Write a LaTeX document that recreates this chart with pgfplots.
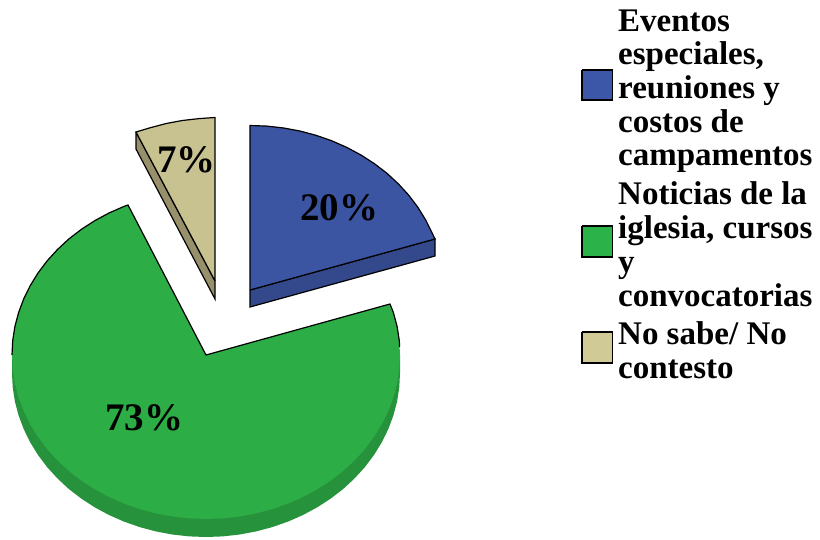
\documentclass[border=0pt]{standalone}
\usepackage{pgfplots}
\pgfplotsset{compat=1.18}
\usepackage{fontspec}
\setmainfont{Liberation Serif}

\definecolor{bluetop}{HTML}{3B55A3}
\definecolor{bluerim}{HTML}{33498C}
\definecolor{greentop}{HTML}{2CAD46}
\definecolor{greenrim}{HTML}{26923B}
\definecolor{tantop}{HTML}{C8C291}
\definecolor{tanrim}{HTML}{97906A}
\definecolor{blueleg}{HTML}{3D57A8}
\definecolor{greenleg}{HTML}{2BB34A}
\definecolor{tanleg}{HTML}{D0CB96}

\newcommand{\legline}[2]{\node[anchor=base west,inner sep=0pt,font=\bfseries\fontsize{33}{34}\selectfont] at (axis cs:618,#1) {#2};}
\newcommand{\pct}[3]{\node[anchor=base west,inner sep=0pt,font=\bfseries\fontsize{39}{40}\selectfont] at (axis cs:#1,#2) {#3};}

\begin{document}
\begin{tikzpicture}
\path (0,0) rectangle (820pt,540pt);
\begin{axis}[
  at={(0,0)}, anchor=south west,
  scale only axis, width=820pt, height=540pt,
  xmin=0, xmax=820, ymin=0, ymax=540,
  y dir=reverse,
  hide axis, clip=false, no markers,
  line join=miter
]
% green slice, rim first
\addplot[fill=greenrim, draw=none] coordinates {
  (12,355)(12,373)(12.7,387.3)(14.9,401.5)(18.6,415.4)(23.7,429.1)(30.2,442.3)(38,455)
  (47.1,467.1)(57.4,478.4)(68.8,489)(81.3,498.6)(94.7,507.3)(109,515)(124,521.6)
  (139.7,527.1)(155.8,531.4)(172.3,534.5)(189.1,536.4)(206,537)(222.9,536.4)(239.7,534.5)
  (256.2,531.4)(272.3,527.1)(288,521.6)(303,515)(317.3,507.3)(330.7,498.6)(343.2,489)
  (354.6,478.4)(364.9,467.1)(374,455)(381.8,442.3)(388.3,429.1)(393.4,415.4)(397.1,401.5)
  (399.3,387.3)(400,373)(400,355)(12,355)
};
\addplot[fill=greentop, draw=none] coordinates {
  (206,355)(128,205)(124,206.4)(109,213)(94.7,220.7)(81.3,229.4)(68.8,239)(57.4,249.6)
  (47.1,260.9)(38,273)(30.2,285.7)(23.7,298.9)(18.6,312.6)(14.9,326.5)(12.7,340.7)(12,355)
  (12.7,369.3)(14.9,383.5)(18.6,397.4)(23.7,411.1)(30.2,424.3)(38,437)(47.1,449.1)
  (57.4,460.4)(68.8,471)(81.3,480.6)(94.7,489.3)(109,497)(124,503.6)(139.7,509.1)
  (155.8,513.4)(172.3,516.5)(189.1,518.4)(206,519)(222.9,518.4)(239.7,516.5)(256.2,513.4)
  (272.3,509.1)(288,503.6)(303,497)(317.3,489.3)(330.7,480.6)(343.2,471)(354.6,460.4)
  (364.9,449.1)(374,437)(381.8,424.3)(388.3,411.1)(393.4,397.4)(397.1,383.5)(399.3,369.3)
  (400,355)(399.3,340.7)(397.1,326.5)(393.4,312.6)(390,304)(206,355)
};
% only the upper part of the green edge has a black line
\addplot[black, line width=1.2pt] coordinates {
  (399.6,347)(399.3,340.7)(397.1,326.5)(393.4,312.6)(390,304)(206,355)(128,205)(124,206.4)
  (109,213)(94.7,220.7)(81.3,229.4)(68.8,239)(57.4,249.6)(47.1,260.9)(38,273)(30.2,285.7)
  (23.7,298.9)(18.6,312.6)(14.9,326.5)(12.7,340.7)(12,355)
};
% tan slice
\addplot[fill=tanrim, draw=black, line width=1.2pt] coordinates {
  (136,132)(136,149)(215,299)(215,281)(136,132)
};
\addplot[fill=tantop, draw=black, line width=1.2pt] coordinates {
  (215,281)(136,132)(149.7,127.9)(165.8,123.6)(182.3,120.5)(199.1,118.6)(215,117.5)(215,281)
};
% blue slice
\addplot[fill=bluerim, draw=black, line width=1.2pt] coordinates {
  (250,290)(435,239)(435,256)(250,307)(250,290)
};
\addplot[fill=bluetop, draw=black, line width=1.2pt] coordinates {
  (250,290)(250,125.5)(266.9,126.1)(283.7,128)(300.2,131.1)(316.3,135.4)(332,140.9)(347,147.5)
  (361.3,155.2)(374.7,163.9)(387.2,173.5)(398.6,184.1)(408.9,195.4)(418,207.5)(425.8,220.2)
  (432.3,233.4)(435,239)(250,290)
};
% legend keys
\addplot[fill=blueleg, draw=black, line width=1.2pt] coordinates {(582,70)(612.5,70)(612.5,100)(582,100)(582,70)};
\addplot[fill=greenleg, draw=black, line width=1.2pt] coordinates {(582,226)(612.5,226)(612.5,257)(582,257)(582,226)};
\addplot[fill=tanleg, draw=black, line width=1.2pt] coordinates {(582,332)(612.5,332)(612.5,363)(582,363)(582,332)};

\pct{300}{221}{20\%}
\pct{157}{173}{7\%}
\pct{105}{430}{73\%}

\legline{31.5}{Eventos}
\legline{64.5}{especiales,}
\legline{98.5}{reuniones y}
\legline{132.5}{costos de}
\legline{165.5}{campamentos}
\legline{204.5}{Noticias de la}
\legline{238.5}{iglesia, cursos}
\legline{272.5}{y}
\legline{306.5}{convocatorias}
\legline{344.5}{No sabe/ No}
\legline{378.5}{contesto}
\end{axis}
\end{tikzpicture}
\end{document}
